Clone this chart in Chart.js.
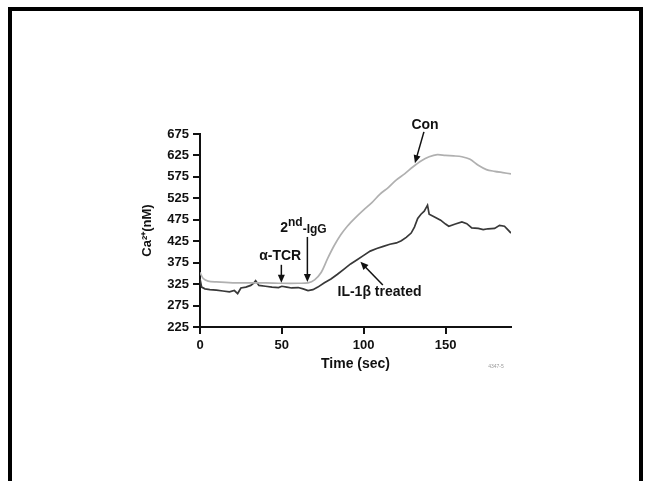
<!DOCTYPE html>
<html>
<head>
<meta charset="utf-8">
<script src="https://cdn.jsdelivr.net/npm/chart.js@4.4.0/dist/chart.umd.min.js"></script>
<style>
  html, body { margin: 0; padding: 0; background: #fff; }
  #wrap { position: relative; width: 645px; height: 481px; overflow: hidden; }
  #frame { position: absolute; left: 8px; top: 7px; width: 627px; height: 520px; border: 4px solid #000; }
  canvas { position: absolute; left: 0; top: 0; }
</style>
</head>
<body>
<div id="wrap">
  <div id="frame"></div>
  <canvas id="chart" width="645" height="481"></canvas>
</div>
<script>
// control cells
const conTime = [0, 2, 5, 10, 20, 30, 40, 50, 60, 66, 70, 74, 78, 82, 86, 90, 95, 100, 105, 110, 115, 120, 125, 130, 135, 140, 145, 150, 155, 160, 165, 170, 175, 180, 185, 190];
const conCa = [352, 338, 332, 330, 328, 328, 328, 327, 327, 328, 335, 352, 385, 415, 440, 460, 480, 498, 515, 535, 550, 568, 582, 598, 612, 622, 627, 625, 624, 622, 616, 602, 592, 588, 585, 582];

// IL-1beta treated cells
const ilTime = [0, 1, 3, 6, 10, 14, 18, 21, 23, 25, 28, 31, 33, 34, 36, 40, 44, 48, 50, 53, 56, 60, 63, 66, 69, 72, 76, 80, 84, 88, 92, 96, 100, 104, 108, 112, 116, 120, 123, 126, 129, 131, 133, 135, 137, 139, 140, 143, 147, 150, 152, 156, 160, 163, 166, 170, 173, 176, 180, 183, 186, 188, 190];
const ilCa = [337, 318, 314, 312, 311, 309, 307, 310, 303, 316, 318, 322, 328, 333, 322, 320, 318, 317, 320, 318, 316, 317, 314, 310, 312, 318, 328, 337, 348, 360, 372, 382, 392, 402, 408, 413, 418, 421, 426, 434, 444, 458, 478, 488, 495, 509, 488, 482, 474, 465, 460, 465, 470, 466, 456, 455, 452, 454, 455, 462, 460, 452, 444];

const yTicks = [225, 275, 325, 375, 425, 475, 525, 575, 625, 675];
const xTicks = [0, 50, 100, 150];

// labels and arrows, in data units
const notes = [
  { text: 'Con', x: 137.5, y: 696, from: [136.8, 680], to: [131.3, 607] },
  { text: 'α-TCR', x: 49, y: 391, from: [49.7, 370], to: [49.7, 328] },
  { text: 'IL-1β treated', x: 84, y: 307, align: 'left', from: [111.7, 323], to: [98, 377] },
  { text: 'IgG', x: 49, y: 447, from: [65.6, 435], to: [65.6, 330] }
];

const toPts = (ts, vs) => ts.map((t, i) => ({ x: t, y: vs[i] }));

function arrow(ctx, x1, y1, x2, y2) {
  const a = Math.atan2(y2 - y1, x2 - x1);
  ctx.beginPath();
  ctx.moveTo(x1, y1);
  ctx.lineTo(x2 - 5 * Math.cos(a), y2 - 5 * Math.sin(a));
  ctx.stroke();
  ctx.beginPath();
  ctx.moveTo(x2, y2);
  ctx.lineTo(x2 - 8 * Math.cos(a) + 3.5 * Math.sin(a), y2 - 8 * Math.sin(a) - 3.5 * Math.cos(a));
  ctx.lineTo(x2 - 8 * Math.cos(a) - 3.5 * Math.sin(a), y2 - 8 * Math.sin(a) + 3.5 * Math.cos(a));
  ctx.closePath();
  ctx.fill();
}

const notesPlugin = {
  id: 'notes',
  afterDraw(chart) {
    const ctx = chart.ctx, xs = chart.scales.x, ys = chart.scales.y;
    ctx.save();
    ctx.fillStyle = '#111';
    ctx.strokeStyle = '#111';
    ctx.lineWidth = 1.5;
    ctx.textBaseline = 'middle';
    notes.forEach(n => {
      const px = xs.getPixelForValue(n.x), py = ys.getPixelForValue(n.y);
      if (n.text === 'IgG') {
        // 2nd-IgG with superscript
        ctx.textAlign = 'left';
        ctx.textBaseline = 'alphabetic';
        ctx.font = 'bold 14px "Liberation Sans", Arial, sans-serif';
        ctx.fillText('2', px, py);
        let w = ctx.measureText('2').width;
        ctx.font = 'bold 12px "Liberation Sans", Arial, sans-serif';
        ctx.fillText('nd', px + w, py - 6);
        w += ctx.measureText('nd').width;
        ctx.fillText('-IgG', px + w, py + 1);
        ctx.textBaseline = 'middle';
      } else {
        ctx.font = 'bold 14px "Liberation Sans", Arial, sans-serif';
        ctx.textAlign = n.align || 'center';
        ctx.fillText(n.text, px, py);
      }
      arrow(ctx, xs.getPixelForValue(n.from[0]), ys.getPixelForValue(n.from[1]),
                 xs.getPixelForValue(n.to[0]), ys.getPixelForValue(n.to[1]));
    });
    // figure code
    ctx.font = '5px "Liberation Sans", Arial, sans-serif';
    ctx.fillStyle = '#999';
    ctx.textAlign = 'center';
    ctx.fillText('4347-5', 496, 367);
    ctx.restore();
  }
};

const font = { family: '"Liberation Sans", Arial, sans-serif', weight: 'bold', size: 13 };

new Chart(document.getElementById('chart'), {
  type: 'line',
  data: {
    datasets: [
      { label: 'Con', data: toPts(conTime, conCa), borderColor: '#b0b0b0', borderWidth: 1.7, pointRadius: 0, tension: 0.3 },
      { label: 'IL-1β treated', data: toPts(ilTime, ilCa), borderColor: '#383838', borderWidth: 1.7, pointRadius: 0, tension: 0 }
    ]
  },
  options: {
    responsive: false,
    animation: false,
    layout: { padding: { left: 140, top: 134, right: 134, bottom: 104 } },
    plugins: { legend: { display: false }, tooltip: { enabled: false } },
    scales: {
      x: {
        type: 'linear',
        min: 0,
        max: 190,
        afterFit: s => { s.height = 50; },
        afterBuildTicks: s => { s.ticks = xTicks.map(v => ({ value: v })); },
        grid: { drawOnChartArea: false, drawTicks: true, tickLength: 7, color: '#111', lineWidth: 2 },
        border: { display: true, color: '#111', width: 2 },
        ticks: { color: '#111', font, padding: 4, maxRotation: 0 },
        title: { display: true, text: 'Time (sec)', color: '#111', padding: { top: 0, bottom: 4 },
                 font: { family: font.family, weight: 'bold', size: 14 } }
      },
      y: {
        min: 225,
        max: 675,
        afterFit: s => { s.width = 60; },
        afterBuildTicks: s => { s.ticks = yTicks.map(v => ({ value: v })); },
        grid: { drawOnChartArea: false, drawTicks: true, tickLength: 7, color: '#111', lineWidth: 2 },
        border: { display: true, color: '#111', width: 2 },
        ticks: { color: '#111', font, padding: 4 },
        title: { display: true, text: 'Ca²⁺(nM)', color: '#111', padding: 0,
                 font: { family: font.family, weight: 'bold', size: 13 } }
      }
    }
  },
  plugins: [notesPlugin]
});
</script>
</body>
</html>
